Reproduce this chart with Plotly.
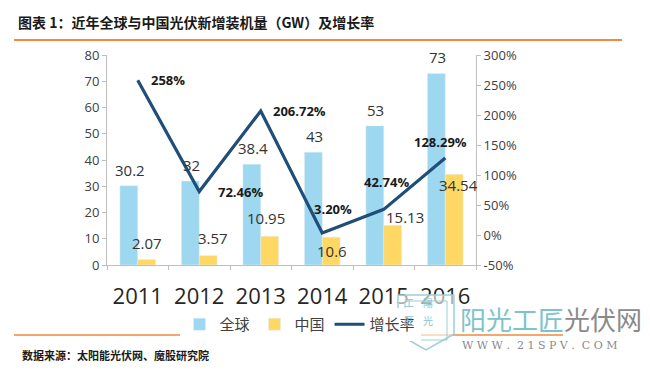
import plotly.graph_objects as go

years = ["2011", "2012", "2013", "2014", "2015", "2016"]
global_gw = [30.2, 32, 38.4, 43, 53, 73]
china_gw = [2.07, 3.57, 10.95, 10.6, 15.13, 34.54]
growth = [258, 72.46, 206.72, 3.20, 42.74, 128.29]
growth_labels = ["258%", "72.46%", "206.72%", "3.20%", "42.74%", "128.29%"]
left_ticks = [0, 10, 20, 30, 40, 50, 60, 70, 80]
right_ticks = [-50, 0, 50, 100, 150, 200, 250, 300]

# label offsets in pixels (styling only)
growth_off = [(30, 0), (41, 0), (39, 0), (11, 24), (3, 27), (-5, 16)]
china_off = [(9, 17), (14, 18), (5, 18), (10, -14), (21, 8), (13, -11)]
global_off = (-8, 16)

W, H = 650, 375
L, R, T, B = 107, 174, 55, 110
PW, PH = W - L - R, H - T - B


def px(x):
    return (x - L) / PW


def py(y):
    return (H - B - y) / PH


fig = go.Figure()
fig.add_trace(go.Bar(x=years, y=global_gw, name="全球", marker_color="#9DD7F0"))
fig.add_trace(go.Bar(x=years, y=china_gw, name="中国", marker_color="#FFD763"))
fig.add_trace(go.Scatter(
    x=years, y=growth, name="增长率", yaxis="y2", mode="lines",
    line=dict(color="#1F4E79", width=3.2),
))

lab_font = dict(size=15, color="#333333", family="Open Sans")
for i, v in enumerate(global_gw):
    fig.add_annotation(x=i, y=v, xref="x", yref="y", text=str(v), showarrow=False,
                       xshift=global_off[0], yshift=global_off[1], font=lab_font)
for i, v in enumerate(china_gw):
    fig.add_annotation(x=i, y=v, xref="x", yref="y", text=str(v), showarrow=False,
                       xshift=china_off[i][0], yshift=china_off[i][1], font=lab_font)
for i, (g, lab) in enumerate(zip(growth, growth_labels)):
    fig.add_annotation(x=i, y=g, xref="x", yref="y2", text="<b>" + lab + "</b>",
                       showarrow=False, xshift=growth_off[i][0], yshift=growth_off[i][1],
                       font=dict(size=13, color="#1a1a1a", family="Open Sans"))

axis_common = dict(showgrid=False, zeroline=False, showline=True,
                   linecolor="#BFBFBF", linewidth=1, ticks="outside",
                   ticklen=4, tickcolor="#BFBFBF")

fig.update_layout(
    width=W, height=H,
    margin=dict(l=L, r=R, t=T, b=B, autoexpand=False),
    paper_bgcolor="white", plot_bgcolor="white",
    barmode="group", bargap=0.42, bargroupgap=0,
    font=dict(family="Open Sans", color="#404040"),
    xaxis=dict(**axis_common, type="category", tickson="boundaries",
               range=[-0.5, len(years) - 0.5], autorange=False,
               tickangle=0, ticklabelstandoff=12,
               tickfont=dict(size=22, color="#262626")),
    yaxis=dict(**axis_common, range=[0, 80], tickvals=left_ticks,
               tickfont=dict(size=13, color="#404040")),
    yaxis2=dict(**axis_common, overlaying="y", side="right", range=[-50, 300],
                tickvals=right_ticks, ticktext=[f"{v}%" for v in right_ticks],
                tickfont=dict(size=13, color="#404040")),
    legend=dict(orientation="h", x=px(300), xanchor="center", y=py(308), yanchor="top",
                font=dict(size=15, family="Noto Sans CJK SC", color="#404040"),
                itemwidth=30, tracegroupgap=0),
    showlegend=True,
)

fig.add_annotation(xref="paper", yref="paper", x=px(16), y=py(22),
                   xanchor="left", yanchor="middle", showarrow=False,
                   text="<b>图表 1：近年全球与中国光伏新增装机量（GW）及增长率</b>",
                   font=dict(size=14, color="#1a1a1a", family="Noto Sans CJK SC"))
fig.add_annotation(xref="paper", yref="paper", x=px(20), y=py(355),
                   xanchor="left", yanchor="middle", showarrow=False,
                   text="<b>数据来源：太阳能光伏网、魔股研究院</b>",
                   font=dict(size=11, color="#1a1a1a", family="Noto Sans CJK SC"))
# orange rules
fig.add_shape(type="line", xref="paper", yref="paper",
              x0=px(14), x1=px(622), y0=py(40), y1=py(40),
              line=dict(color="#F08A3C", width=2))
fig.add_shape(type="line", xref="paper", yref="paper",
              x0=px(14), x1=px(563), y0=py(335), y1=py(335),
              line=dict(color="#F08A3C", width=1.5))
# watermark shield
shield = (f"M {px(398)},{py(295)} L {px(454)},{py(295)} L {px(454)},{py(334)} "
          f"L {px(426)},{py(350)} L {px(398)},{py(334)} Z")
fig.add_shape(type="path", xref="paper", yref="paper", path=shield,
              fillcolor="rgba(255,255,255,0.6)", line=dict(color="#9CCFD6", width=1.5))
fig.add_shape(type="rect", xref="paper", yref="paper",
              x0=px(405), x1=px(447), y0=py(301), y1=py(340),
              line=dict(color="#9CCFD6", width=1))
for txt, xx, yy in [("工", 416, 312), ("陽", 435, 312), ("匠", 416, 330), ("光", 435, 330)]:
    fig.add_annotation(xref="paper", yref="paper", x=px(xx), y=py(yy), showarrow=False,
                       text=txt, font=dict(size=10, color="#8CC6CE", family="Noto Sans CJK TC"))
# watermark text
fig.add_annotation(xref="paper", yref="paper", x=px(458), y=py(318),
                   xanchor="left", yanchor="middle", showarrow=False,
                   text="<span style='color:#7DC3CB'>阳光工匠</span><span style='color:#8a8a8a'>光伏网</span>",
                   font=dict(size=26, family="Noto Sans CJK SC"))
fig.add_annotation(xref="paper", yref="paper", x=px(460), y=py(345),
                   xanchor="left", yanchor="middle", showarrow=False,
                   text="W W W .  2 1 S P V .  C O M",
                   font=dict(size=11, color="#8a8a8a", family="DejaVu Serif"))

fig.write_html("out.html", config={"displayModeBar": False},
               post_script="document.body.style.margin='0';")
